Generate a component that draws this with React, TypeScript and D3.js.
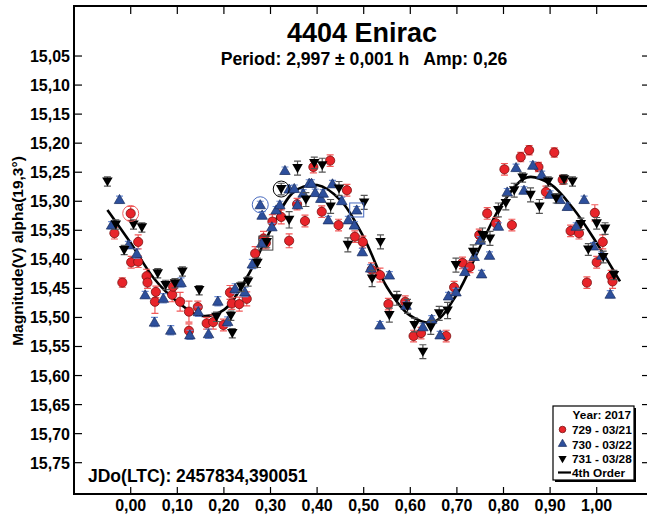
import { useEffect, useRef } from 'react';
import * as d3 from 'd3';

// phase, magnitude, error
const obs729 = [
  [-0.035, 15.355, 0.010], [0.000, 15.321, 0.012], [0.016, 15.370, 0.012], [0.001, 15.405, 0.010],
  [0.016, 15.404, 0.010], [-0.018, 15.440, 0.008], [0.034, 15.429, 0.012], [0.036, 15.440, 0.010],
  [0.054, 15.456, 0.010], [0.052, 15.473, 0.020], [0.089, 15.461, 0.012], [0.091, 15.447, 0.010],
  [0.106, 15.473, 0.016], [0.125, 15.490, 0.018], [0.125, 15.523, 0.012], [0.144, 15.482, 0.010],
  [0.163, 15.510, 0.010], [0.177, 15.508, 0.012], [0.199, 15.513, 0.010], [0.213, 15.457, 0.012],
  [0.217, 15.476, 0.010], [0.233, 15.477, 0.012], [0.249, 15.468, 0.012], [0.267, 15.390, 0.012],
  [0.285, 15.364, 0.012], [0.290, 15.372, 0.010], [0.304, 15.335, 0.012], [0.323, 15.327, 0.012],
  [0.340, 15.368, 0.012], [0.357, 15.305, 0.010], [0.374, 15.334, 0.010], [0.392, 15.241, 0.010],
  [0.410, 15.318, 0.010], [0.428, 15.230, 0.010], [0.446, 15.341, 0.010], [0.464, 15.281, 0.010],
  [0.481, 15.361, 0.010], [0.498, 15.370, 0.010], [0.517, 15.418, 0.012], [0.535, 15.427, 0.012],
  [0.553, 15.477, 0.010], [0.589, 15.473, 0.010], [0.607, 15.532, 0.010], [0.623, 15.527, 0.010],
  [0.677, 15.532, 0.010], [0.694, 15.448, 0.010], [0.712, 15.406, 0.010], [0.728, 15.413, 0.010],
  [0.748, 15.358, 0.010], [0.765, 15.321, 0.010], [0.784, 15.338, 0.010], [0.802, 15.245, 0.010],
  [0.818, 15.341, 0.010], [0.837, 15.224, 0.008], [0.855, 15.212, 0.008], [0.875, 15.241, 0.008],
  [0.891, 15.284, 0.010], [0.909, 15.216, 0.008], [0.927, 15.263, 0.008], [0.944, 15.351, 0.010],
  [0.962, 15.355, 0.010], [0.979, 15.440, 0.010], [0.996, 15.320, 0.014], [1.000, 15.405, 0.010],
  [1.013, 15.370, 0.012], [1.031, 15.429, 0.010], [1.034, 15.438, 0.012],
];

const obs730 = [
  [-0.024, 15.297, 0.006], [-0.041, 15.341, 0.006], [-0.005, 15.375, 0.006], [0.013, 15.390, 0.008],
  [0.031, 15.461, 0.006], [0.051, 15.508, 0.008], [0.070, 15.467, 0.008], [0.086, 15.522, 0.008],
  [0.108, 15.440, 0.008], [0.127, 15.530, 0.008], [0.145, 15.490, 0.008], [0.167, 15.528, 0.008],
  [0.187, 15.472, 0.008], [0.208, 15.507, 0.008], [0.224, 15.450, 0.008], [0.245, 15.456, 0.008],
  [0.261, 15.408, 0.008], [0.278, 15.306, 0.006], [0.282, 15.324, 0.006], [0.281, 15.372, 0.006],
  [0.303, 15.344, 0.006], [0.312, 15.315, 0.006], [0.320, 15.306, 0.006], [0.331, 15.247, 0.006],
  [0.340, 15.279, 0.006], [0.351, 15.278, 0.006], [0.358, 15.306, 0.006], [0.370, 15.286, 0.006],
  [0.383, 15.269, 0.006], [0.388, 15.269, 0.006], [0.396, 15.285, 0.006], [0.408, 15.295, 0.006],
  [0.413, 15.286, 0.006], [0.424, 15.332, 0.006], [0.433, 15.270, 0.006], [0.453, 15.299, 0.006],
  [0.467, 15.332, 0.006], [0.480, 15.341, 0.006], [0.485, 15.315, 0.006], [0.497, 15.387, 0.006],
  [0.515, 15.415, 0.006], [0.555, 15.427, 0.006], [0.535, 15.513, 0.006], [0.591, 15.479, 0.006],
  [0.627, 15.516, 0.006], [0.646, 15.503, 0.006], [0.664, 15.530, 0.006], [0.682, 15.463, 0.006],
  [0.698, 15.456, 0.006], [0.717, 15.421, 0.006], [0.737, 15.395, 0.006], [0.750, 15.367, 0.006],
  [0.753, 15.425, 0.006], [0.770, 15.393, 0.006], [0.789, 15.343, 0.006], [0.808, 15.284, 0.006],
  [0.827, 15.242, 0.006], [0.844, 15.281, 0.006], [0.863, 15.238, 0.006], [0.882, 15.254, 0.006],
  [0.900, 15.288, 0.006], [0.921, 15.297, 0.006], [0.937, 15.309, 0.006], [0.956, 15.343, 0.006],
  [0.973, 15.297, 0.006], [0.993, 15.377, 0.006], [1.011, 15.393, 0.006], [1.029, 15.460, 0.006],
];

const obs731 = [
  [-0.050, 15.266, 0.008], [-0.032, 15.340, 0.008], [0.006, 15.340, 0.008], [0.024, 15.345, 0.008],
  [-0.014, 15.384, 0.008], [0.058, 15.424, 0.008], [0.075, 15.444, 0.008], [0.095, 15.441, 0.008],
  [0.111, 15.421, 0.008], [0.147, 15.453, 0.008], [0.184, 15.499, 0.008], [0.215, 15.497, 0.008],
  [0.218, 15.527, 0.008], [0.237, 15.447, 0.008], [0.252, 15.438, 0.008], [0.272, 15.406, 0.008],
  [0.292, 15.370, 0.010], [0.323, 15.279, 0.010], [0.340, 15.332, 0.014], [0.358, 15.243, 0.012],
  [0.376, 15.297, 0.012], [0.394, 15.234, 0.010], [0.411, 15.238, 0.012], [0.429, 15.309, 0.012],
  [0.447, 15.278, 0.012], [0.466, 15.375, 0.012], [0.501, 15.302, 0.012], [0.518, 15.433, 0.014],
  [0.536, 15.370, 0.012], [0.555, 15.496, 0.012], [0.571, 15.467, 0.012], [0.594, 15.481, 0.012],
  [0.609, 15.513, 0.012], [0.627, 15.559, 0.012], [0.644, 15.517, 0.012], [0.662, 15.493, 0.012],
  [0.680, 15.488, 0.014], [0.698, 15.410, 0.012], [0.735, 15.387, 0.012], [0.755, 15.358, 0.012],
  [0.771, 15.364, 0.012], [0.789, 15.315, 0.012], [0.805, 15.303, 0.012], [0.823, 15.281, 0.012],
  [0.841, 15.259, 0.008], [0.858, 15.289, 0.012], [0.877, 15.309, 0.012], [0.896, 15.266, 0.008],
  [0.913, 15.295, 0.008], [0.930, 15.262, 0.008], [0.948, 15.266, 0.008], [0.966, 15.339, 0.010],
  [0.982, 15.383, 0.010], [1.000, 15.338, 0.010], [1.014, 15.396, 0.010], [1.018, 15.347, 0.010],
  [1.037, 15.427, 0.008],
];

// 4th order Fourier fit
const fitPhase = [-0.05, 0.0, 0.05, 0.1, 0.15, 0.2, 0.25, 0.3, 0.35, 0.4, 0.45, 0.5,
  0.55, 0.6, 0.65, 0.7, 0.75, 0.8, 0.85, 0.9, 0.95, 1.0, 1.05];
const fitMag = [15.315, 15.372, 15.433, 15.473, 15.497, 15.487, 15.43, 15.35, 15.284, 15.272, 15.298, 15.362,
  15.448, 15.497, 15.508, 15.46, 15.378, 15.301, 15.259, 15.27, 15.313, 15.372, 15.438];

// highlighted observations: phase, mag, shape, colour
const flagged = [
  [0.000, 15.321, 'circle', '#f06060'],
  [0.278, 15.306, 'circle', '#4a6cc0'],
  [0.323, 15.279, 'circle', '#000'],
  [0.290, 15.372, 'square', '#444'],
  [0.485, 15.315, 'square', '#4a6cc0'],
];

const xTicks = [0, 0.1, 0.2, 0.3, 0.4, 0.5, 0.6, 0.7, 0.8, 0.9, 1.0];
const yTicks = [15.05, 15.1, 15.15, 15.2, 15.25, 15.3, 15.35, 15.4, 15.45, 15.5, 15.55, 15.6, 15.65, 15.7, 15.75];

const legendLabels = ['729 - 03/21', '730 - 03/22', '731 - 03/28', '4th Order'];

const App = () => {
  const svgRef = useRef(null);

  useEffect(() => {
    document.body.style.margin = '0';
    const svg = d3.select(svgRef.current);
    svg.selectAll('*').remove();

    const font = '"Liberation Sans", Arial, sans-serif';
    // right edge of the frame sits just past the picture
    const left = 74, right = 648, top = 6, bottom = 494;

    const x = d3.scaleLinear().domain([-0.1217, 1.1101]).range([left, right]);
    const y = d3.scaleLinear().domain([14.9639, 15.8039]).range([top, bottom]);
    const fmt = (d, n) => d.toFixed(n).replace('.', ',');

    // ticks (inward on all four sides)
    const tk = svg.append('g').attr('stroke', '#000').attr('stroke-width', 1.2);
    xTicks.forEach(t => {
      tk.append('line').attr('x1', x(t)).attr('x2', x(t)).attr('y1', bottom).attr('y2', bottom - 7);
      tk.append('line').attr('x1', x(t)).attr('x2', x(t)).attr('y1', top).attr('y2', top + 8);
    });
    yTicks.forEach(t => {
      tk.append('line').attr('x1', left).attr('x2', left + 8).attr('y1', y(t)).attr('y2', y(t));
      tk.append('line').attr('x1', right).attr('x2', right - 6).attr('y1', y(t)).attr('y2', y(t));
    });

    svg.append('g')
      .selectAll('text')
      .data(xTicks)
      .join('text')
      .attr('x', d => x(d))
      .attr('y', 511)
      .attr('text-anchor', 'middle')
      .attr('font-family', font).attr('font-weight', 'bold').attr('font-size', 16)
      .text(d => fmt(d, 2));

    svg.append('g')
      .selectAll('text')
      .data(yTicks)
      .join('text')
      .attr('x', 70)
      .attr('y', d => y(d) + 6)
      .attr('text-anchor', 'end')
      .attr('font-family', font).attr('font-weight', 'bold').attr('font-size', 16)
      .text(d => fmt(d, 2));

    svg.append('text')
      .attr('transform', 'translate(23,251) rotate(-90)')
      .attr('text-anchor', 'middle')
      .attr('font-family', font).attr('font-weight', 'bold').attr('font-size', 15.5)
      .text('Magnitude(V) alpha(19,3°)');

    // fit curve
    svg.append('path')
      .datum(fitPhase.map((p, i) => [p, fitMag[i]]))
      .attr('fill', 'none')
      .attr('stroke', '#000')
      .attr('stroke-width', 2.6)
      .attr('d', d3.line().x(d => x(d[0])).y(d => y(d[1])).curve(d3.curveCatmullRom));

    const tri = d3.symbol().type(d3.symbolTriangle).size(48);
    const triSmall = d3.symbol().type(d3.symbolTriangle).size(30);

    const drawSeries = (data, errColor, draw) => {
      const g = svg.append('g');
      data.forEach(([p, m, e]) => {
        const cx = x(p), y0 = y(m - e), y1 = y(m + e);
        g.append('path')
          .attr('d', `M${cx},${y0}V${y1}M${cx - 3.5},${y0}h7M${cx - 3.5},${y1}h7`)
          .attr('stroke', errColor).attr('stroke-width', 1.2).attr('fill', 'none');
      });
      data.forEach(([p, m]) => draw(g, x(p), y(m)));
    };

    const redDot = (g, cx, cy, r = 4.6) => g.append('circle').attr('cx', cx).attr('cy', cy).attr('r', r)
      .attr('fill', '#e8242a').attr('stroke', '#7a1010').attr('stroke-width', 0.8);
    const blueUp = (g, cx, cy, shape = tri) => g.append('path').attr('d', shape)
      .attr('transform', `translate(${cx},${cy + 1})`)
      .attr('fill', '#2d4f9c').attr('stroke', '#1a2d5c').attr('stroke-width', 0.7);
    const blackDown = (g, cx, cy, shape = tri) => g.append('path').attr('d', shape)
      .attr('transform', `translate(${cx},${cy - 1}) rotate(180)`)
      .attr('fill', '#000');

    drawSeries(obs729, '#f25a5a', redDot);
    drawSeries(obs730, '#6f8fd6', blueUp);
    drawSeries(obs731, '#555', blackDown);

    flagged.forEach(([p, m, shape, color]) => {
      if (shape === 'circle') {
        svg.append('circle').attr('cx', x(p)).attr('cy', y(m)).attr('r', 8)
          .attr('fill', 'none').attr('stroke', color).attr('stroke-width', 1);
      } else {
        svg.append('rect').attr('x', x(p) - 7).attr('y', y(m) - 7).attr('width', 14).attr('height', 14)
          .attr('fill', 'none').attr('stroke', color).attr('stroke-width', 1);
      }
    });

    // frame
    svg.append('rect')
      .attr('x', left).attr('y', top).attr('width', right - left).attr('height', bottom - top)
      .attr('fill', 'none').attr('stroke', '#000').attr('stroke-width', 2);

    // titles
    svg.append('text').attr('x', 362).attr('y', 42).attr('text-anchor', 'middle')
      .attr('font-family', font).attr('font-weight', 'bold').attr('font-size', 27)
      .text('4404 Enirac');
    svg.append('text').attr('x', 364).attr('y', 65).attr('text-anchor', 'middle')
      .attr('font-family', font).attr('font-weight', 'bold').attr('font-size', 17.6)
      .attr('xml:space', 'preserve').style('white-space', 'pre')
      .text('Period: 2,997 ± 0,001 h   Amp: 0,26');
    svg.append('text').attr('x', 88).attr('y', 482)
      .attr('font-family', font).attr('font-weight', 'bold').attr('font-size', 17.5)
      .text('JDo(LTC): 2457834,390051');

    // legend
    const lg = svg.append('g');
    lg.append('rect').attr('x', 555).attr('y', 408).attr('width', 81).attr('height', 74).attr('fill', '#000');
    lg.append('rect').attr('x', 553).attr('y', 406).attr('width', 81).attr('height', 74)
      .attr('fill', '#fff').attr('stroke', '#000').attr('stroke-width', 1.2);
    lg.append('text').attr('x', 631).attr('y', 419).attr('text-anchor', 'end')
      .attr('font-family', font).attr('font-weight', 'bold').attr('font-size', 11.8).text('Year: 2017');
    const rowY = [434, 448.5, 463, 477];
    legendLabels.forEach((label, i) => {
      lg.append('text').attr('x', 572).attr('y', rowY[i])
        .attr('font-family', font).attr('font-weight', 'bold').attr('font-size', 11.8).text(label);
    });
    redDot(lg, 562.5, rowY[0] - 4.5, 3.3);
    blueUp(lg, 562.5, rowY[1] - 5.5, triSmall);
    blackDown(lg, 562.5, rowY[2] - 3.5, triSmall);
    lg.append('line').attr('x1', 558).attr('x2', 571).attr('y1', rowY[3] - 4.5).attr('y2', rowY[3] - 4.5)
      .attr('stroke', '#000').attr('stroke-width', 2.2);
  }, []);

  return (
    <div style={{ width: 647, height: 519 }}>
      <svg ref={svgRef} width={647} height={519} style={{ display: 'block' }} />
    </div>
  );
};

export default App;
